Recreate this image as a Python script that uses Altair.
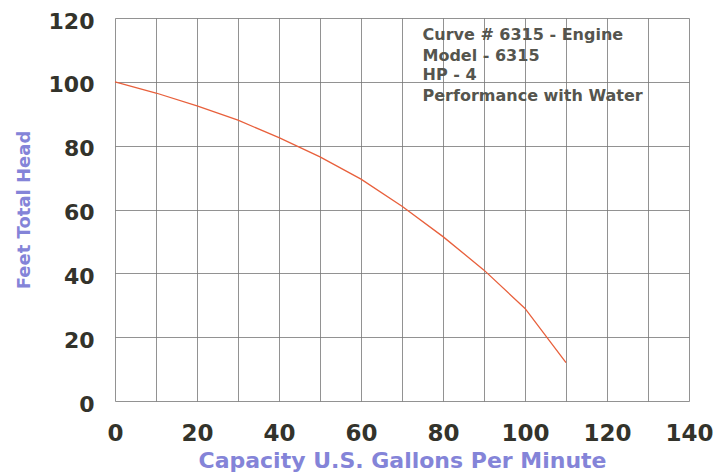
import altair as alt
import pandas as pd

gpm = [0, 10, 20, 30, 40, 50, 60, 70, 80, 90, 100, 110]
head = [100, 96.5, 92.5, 88, 82.5, 76.5, 69.5, 61, 51.5, 41, 29, 12]

info_lines = ["Curve # 6315 - Engine", "Model - 6315", "HP - 4", "Performance with Water"]
info_y = [114.6, 108, 102, 95.6]
info_x = [75, 75, 75, 75]

x_ticks = list(range(0, 141, 10))
y_ticks = list(range(0, 121, 10))

df = pd.DataFrame({"gpm": gpm, "head": head})
info = pd.DataFrame({"x": info_x, "y": info_y, "t": info_lines})

W, H = 574, 383

xs = alt.Scale(domain=[0, 140], nice=False)
ys = alt.Scale(domain=[0, 120], nice=False)

label_color = "#33332b"
title_color = "#8484d8"

line = alt.Chart(df).mark_line(color="#e8603c", strokeWidth=1.3).encode(
    x=alt.X("gpm:Q", scale=xs,
            axis=alt.Axis(values=x_ticks, grid=True, ticks=False, domain=False,
                          labelExpr="datum.value % 20 == 0 ? datum.label : ''",
                          labelFlush=False, labelOverlap=False,
                          labelFont="DejaVu Sans", labelFontWeight="bold", labelFontSize=23,
                          labelColor=label_color, labelPadding=32, labelBaseline="middle",
                          title="Capacity U.S. Gallons Per Minute", titleFont="DejaVu Sans",
                          titleFontSize=22, titleFontWeight="bold", titleColor=title_color,
                          titleY=59, titleBaseline="middle",
                          gridColor="#777777", gridWidth=1, gridOpacity=0.8)),
    y=alt.Y("head:Q", scale=ys,
            axis=alt.Axis(values=y_ticks, grid=True, ticks=False, domain=False,
                          labelExpr="datum.value % 20 == 0 ? datum.label : ''",
                          labelFlush=False, labelOverlap=False, labelOffset=3,
                          labelFont="DejaVu Sans", labelFontWeight="bold", labelFontSize=22,
                          labelColor=label_color, labelPadding=21,
                          title="Feet Total Head", titleFont="DejaVu Sans",
                          titleFontSize=18, titleFontWeight="bold", titleColor=title_color,
                          titleX=-91, titleBaseline="middle",
                          gridColor="#777777", gridWidth=1, gridOpacity=0.8)),
)

text = alt.Chart(info).mark_text(align="left", baseline="middle", font="DejaVu Sans",
                                 fontWeight="bold", fontSize=16, color="#55554e").encode(
    x=alt.X("x:Q", scale=xs), y=alt.Y("y:Q", scale=ys), text="t:N")

chart = (line + text).properties(
    width=W, height=H,
    autosize=alt.AutoSizeParams(type="none"),
    padding={"left": 107, "top": 10, "right": 31, "bottom": 73},
    background="#ffffff",
).configure_view(stroke=None)

chart.save("out.html", embed_options={"renderer": "svg", "actions": False})
